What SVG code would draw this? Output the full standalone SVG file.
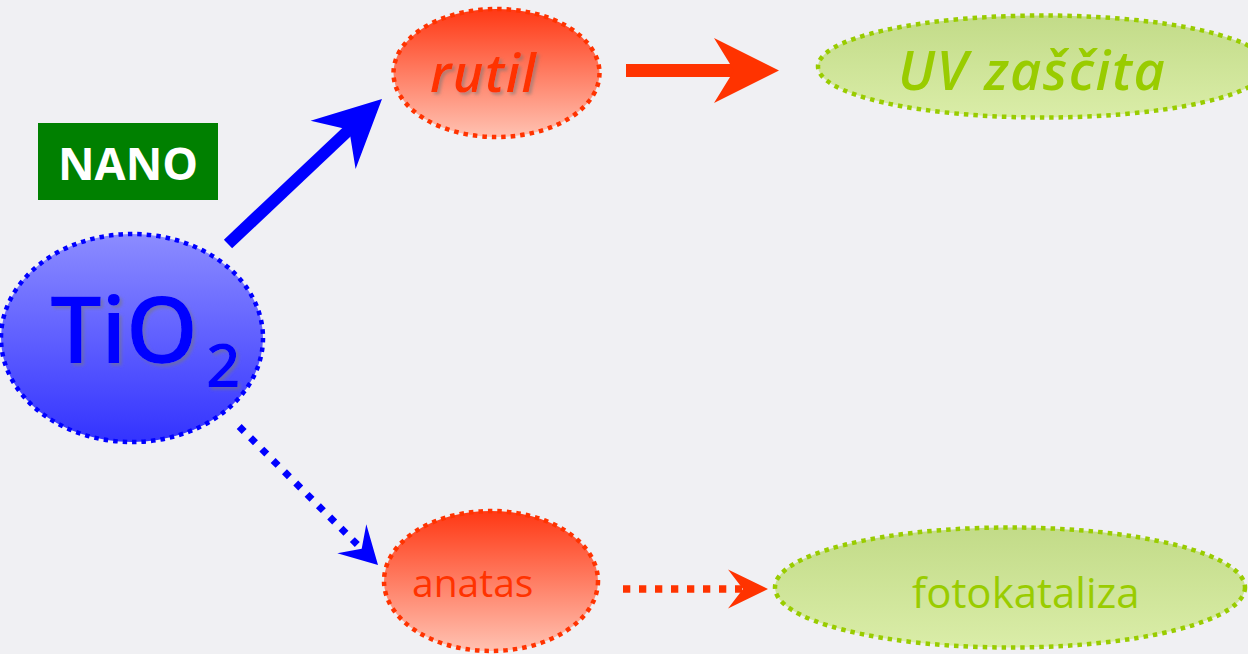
<svg xmlns="http://www.w3.org/2000/svg" width="1248" height="654" viewBox="0 0 1248 654">
  <defs>
    <linearGradient id="gBlue" x1="0" y1="0" x2="0" y2="1">
      <stop offset="0" stop-color="#8C8CFF"/>
      <stop offset="1" stop-color="#3333FF"/>
    </linearGradient>
    <linearGradient id="gRed" x1="0" y1="0" x2="0" y2="1">
      <stop offset="0" stop-color="#FF3814"/>
      <stop offset="1" stop-color="#FFC2B2"/>
    </linearGradient>
    <linearGradient id="gGreen" x1="0" y1="0" x2="0" y2="1">
      <stop offset="0" stop-color="#C2DB88"/>
      <stop offset="1" stop-color="#DAEDA8"/>
    </linearGradient>
    <filter id="shadow" x="-10%" y="-10%" width="130%" height="130%">
      <feDropShadow dx="2.5" dy="2.5" stdDeviation="1.5" flood-color="#777777" flood-opacity="0.55"/>
    </filter>
  </defs>
  <style>
    .node { stroke-width: 4.5; stroke-dasharray: 4.5 5; }
    .blue { fill: url(#gBlue); stroke: #0000FF; }
    .red { fill: url(#gRed); stroke: #FF3300; }
    .green { fill: url(#gGreen); stroke: #99CC00; }
    .t { font-family: "Open Sans", "Noto Sans", "DejaVu Sans", sans-serif; }
    .tBlue { fill: #0000FF; }
    .tRed { fill: #FF3300; }
    .tGreen { fill: #99CC00; }
    .it { font-style: italic; font-weight: 600; }
  </style>
  <rect x="0" y="0" width="1248" height="654" fill="#F0F0F3"/>

  <g id="connectors">
    <!-- TiO2 -> rutil (solid blue) -->
    <line x1="228" y1="244" x2="352" y2="127" stroke="#0000FF" stroke-width="12"/>
    <polygon points="382,99 310.6,120.7 349.2,129.7 355.6,168.9" fill="#0000FF"/>
    <!-- TiO2 -> anatas (dotted blue) -->
    <line x1="239.2" y1="426.5" x2="358" y2="545.3" stroke="#0000FF" stroke-width="7" stroke-dasharray="7 9"/>
    <polygon points="378,565 337.3,553.3 361.7,548.7 366.3,524.3" fill="#0000FF"/>
    <!-- rutil -> UV zascita (solid red) -->
    <line x1="626" y1="70.5" x2="737" y2="70.5" stroke="#FF3300" stroke-width="13"/>
    <polygon points="779,70.5 714,38 734,70.5 714,103" fill="#FF3300"/>
    <!-- anatas -> fotokataliza (dotted red) -->
    <line x1="623" y1="589" x2="742" y2="589" stroke="#FF3300" stroke-width="7.3" stroke-dasharray="7.3 8.7"/>
    <polygon points="768,589 728,569.5 743,589 728,608.5" fill="#FF3300"/>
  </g>

  <g id="nano">
    <rect x="38" y="123" width="180" height="77" fill="#008000"/>
    <text class="t" x="58" y="180" font-size="45" font-weight="700" fill="#FFFFFF">NANO</text>
  </g>

  <g id="tio2">
    <ellipse class="node blue" cx="132" cy="338" rx="131" ry="104"/>
    <g filter="url(#shadow)">
      <text class="t tBlue" x="50" y="363" font-size="92" font-weight="600" letter-spacing="-1">TiO</text>
      <text class="t tBlue" x="206" y="387" font-size="60" font-weight="600">2</text>
    </g>
  </g>

  <g id="rutil">
    <ellipse class="node red" cx="496.5" cy="73" rx="103" ry="64"/>
    <text class="t tRed it" x="430" y="92" font-size="52" letter-spacing="1.5" filter="url(#shadow)">rutil</text>
  </g>

  <g id="uv">
    <ellipse class="node green" cx="1043" cy="66.5" rx="225" ry="51"/>
    <text class="t tGreen it" x="898" y="90" font-size="54" letter-spacing="1.5">UV zaščita</text>
  </g>

  <g id="anatas">
    <ellipse class="node red" cx="491" cy="581" rx="107" ry="70"/>
    <text class="t tRed" x="412" y="597" font-size="39">anatas</text>
  </g>

  <g id="fotokataliza">
    <ellipse class="node green" cx="1010" cy="587.5" rx="235" ry="60"/>
    <text class="t tGreen" x="912" y="608" font-size="42">fotokataliza</text>
  </g>
</svg>
